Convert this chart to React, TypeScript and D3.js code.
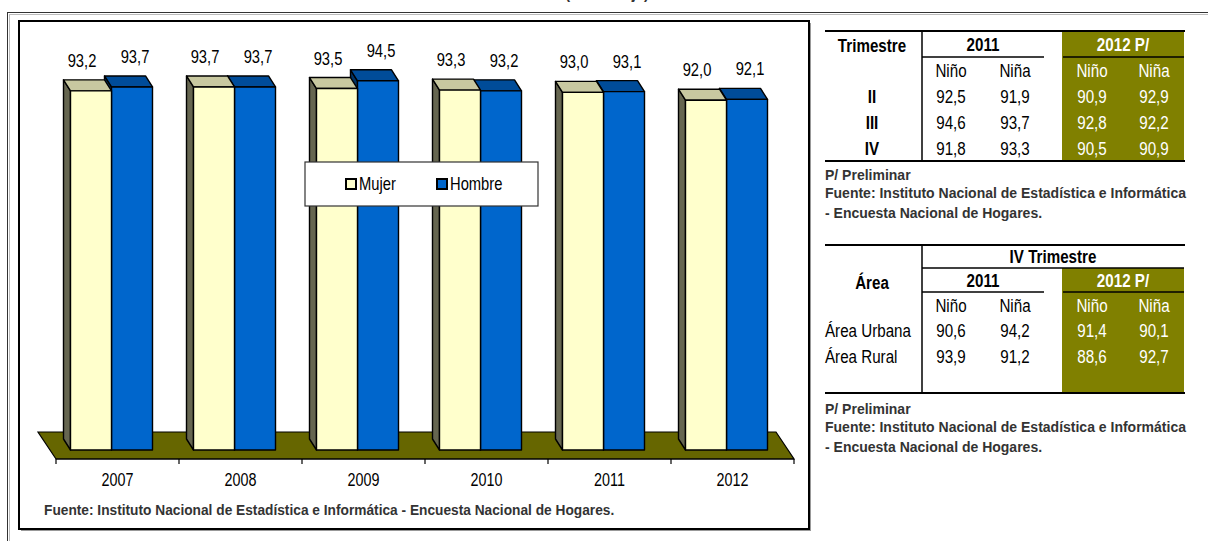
import React from "react";
import * as d3 from "d3";

const years = ["2007", "2008", "2009", "2010", "2011", "2012"];
const mujer = [93.2, 93.7, 93.5, 93.3, 93.0, 92.0];
const hombre = [93.7, 93.7, 94.5, 93.2, 93.1, 92.1];
const seriesNames = ["Mujer", "Hombre"];

const trimestres = ["II", "III", "IV"];
const triNino2011 = [92.5, 94.6, 91.8];
const triNina2011 = [91.9, 93.7, 93.3];
const triNino2012 = [90.9, 92.8, 90.5];
const triNina2012 = [92.9, 92.2, 90.9];

const areas = ["Área Urbana", "Área Rural"];
const areaNino2011 = [90.6, 93.9];
const areaNina2011 = [94.2, 91.2];
const areaNino2012 = [91.4, 88.6];
const areaNina2012 = [90.1, 92.7];

const FONT = "'Liberation Sans', Arial, sans-serif";
const NARROW = 0.82;
const fmt = (v: number) => d3.format(".1f")(v).replace(".", ",");
const fuente = "Fuente: Instituto Nacional de Estadística e Informática - Encuesta Nacional de Hogares.";

const COLORS = {
  mujerFront: "#FFFFCC",
  mujerTop: "#C8C8A0",
  mujerSide: "#666650",
  hombreFront: "#0066CC",
  hombreTop: "#004C99",
  hombreSide: "#003366",
  floor: "#666600",
  olive: "#808000",
};

function Txt({ x, y, anchor = "start", size = 18, weight = "normal", fill = "#000", scale = NARROW, middle = true, children }: any) {
  return (
    <text
      transform={`translate(${x},${y}) scale(${scale},1)`}
      textAnchor={anchor}
      dy={middle ? "0.35em" : undefined}
      fontSize={size}
      fontWeight={weight}
      fontFamily={FONT}
      fill={fill}
    >
      {children}
    </text>
  );
}

function Bar3D({ L, R, top, bottom, dx, dy, front, topC, side }: any) {
  const pts = (a: number[][]) => a.map((p) => p.join(",")).join(" ");
  return (
    <g stroke="#000" strokeWidth={1.4} strokeLinejoin="round">
      <polygon points={pts([[L, top], [L + dx, top + dy], [L + dx, bottom + dy], [L, bottom]])} fill={side} />
      <polygon points={pts([[L, top], [R, top], [R + dx, top + dy], [L + dx, top + dy]])} fill={topC} />
      <rect x={L} y={top} width={R - L} height={bottom - top} fill={front} />
    </g>
  );
}

function Chart() {
  const x = d3.scaleBand().domain(years).range([56, 794]);
  const y = d3.scaleLinear().domain([47, 100]).range([450, 38]);
  const bw = 41;
  const dx = -7, dy = -11;
  const shift = -6;
  const baseY = y(47);
  const floorFront = 459;
  const fdx = -18, fdy = -27;
  const x0 = x.range()[0], x1 = x.range()[1];

  return (
    <g>
      <rect x={21} y={23} width={790} height={508} fill="#999" />
      <rect x={19} y={21} width={790} height={508} fill="#fff" stroke="#000" strokeWidth={2} />
      <polygon
        points={[[x0, floorFront], [x1, floorFront], [x1 + fdx, floorFront + fdy], [x0 + fdx, floorFront + fdy]].map((p) => p.join(",")).join(" ")}
        fill={COLORS.floor}
        stroke="#000"
        strokeWidth={1.2}
      />
      <line x1={x0} x2={x1} y1={floorFront} y2={floorFront} stroke="#000" strokeWidth={1.2} />
      {years.concat(["end"]).map((d, i) => {
        const tx = i < years.length ? (x(d) as number) : x1;
        return <line key={"t" + i} x1={tx} x2={tx} y1={floorFront} y2={floorFront + 5} stroke="#000" strokeWidth={1.2} />;
      })}
      {years.map((yr) => (
        <Txt key={"yl" + yr} x={(x(yr) as number) + x.bandwidth() / 2} y={480} anchor="middle" size={17.5}>
          {yr}
        </Txt>
      ))}
      {years.map((yr, i) => {
        const c = (x(yr) as number) + x.bandwidth() / 2 + shift;
        const hTop = y(hombre[i]);
        const mTop = y(mujer[i]);
        return (
          <g key={"b" + yr}>
            <Bar3D L={c} R={c + bw} top={hTop} bottom={baseY} dx={dx} dy={dy} front={COLORS.hombreFront} topC={COLORS.hombreTop} side={COLORS.hombreSide} />
            <Bar3D L={c - bw} R={c} top={mTop} bottom={baseY} dx={dx} dy={dy} front={COLORS.mujerFront} topC={COLORS.mujerTop} side={COLORS.mujerSide} />
            <Txt x={c - bw / 2 - 9} y={mTop + dy - 13} anchor="middle" middle={false}>
              {fmt(mujer[i])}
            </Txt>
            <Txt x={c + bw / 2 + 3} y={hTop + dy - 13} anchor="middle" middle={false}>
              {fmt(hombre[i])}
            </Txt>
          </g>
        );
      })}
      <rect x={305} y={162} width={233} height={44} fill="#fff" stroke="#333" strokeWidth={1.2} />
      {seriesNames.map((s, i) => {
        const lx = [346, 437][i];
        return (
          <g key={"lg" + s}>
            <rect x={lx} y={179} width={10} height={10} fill={i === 0 ? COLORS.mujerFront : COLORS.hombreFront} stroke="#000" strokeWidth={2} />
            <Txt x={lx + 13} y={184}>{s}</Txt>
          </g>
        );
      })}
      <Txt x={44} y={510} size={14} weight="bold" fill="#333" scale={0.98}>
        {fuente}
      </Txt>
    </g>
  );
}

function Notes({ y0 }: { y0: number }) {
  const lines = ["P/ Preliminar", "Fuente: Instituto Nacional de Estadística e Informática", "- Encuesta Nacional de Hogares."];
  const ys = [y0, y0 + 18, y0 + 38];
  return (
    <g>
      {lines.map((l, i) => (
        <Txt key={l} x={825} y={ys[i]} size={14} weight="bold" fill="#333" scale={1}>
          {l}
        </Txt>
      ))}
    </g>
  );
}

const colX = [951, 1015, 1092, 1154];
const subHeads = ["Niño", "Niña", "Niño", "Niña"];

function Table1() {
  const rowsY = [97, 123, 149];
  const cols = [triNino2011, triNina2011, triNino2012, triNina2012];
  return (
    <g>
      <rect x={1062} y={31} width={122} height={130} fill={COLORS.olive} />
      <line x1={825} x2={1185} y1={31} y2={31} stroke="#000" strokeWidth={2} />
      <line x1={922} x2={922} y1={31} y2={161} stroke="#000" strokeWidth={1.5} />
      <line x1={922} x2={1044} y1={57} y2={57} stroke="#000" strokeWidth={1.5} />
      <line x1={1063} x2={1184} y1={57} y2={57} stroke="#000" strokeWidth={1.5} />
      <line x1={825} x2={1185} y1={161} y2={161} stroke="#000" strokeWidth={2} />
      <Txt x={872} y={46} anchor="middle" size={18.5} weight="bold">Trimestre</Txt>
      <Txt x={983} y={45} anchor="middle" size={18.5} weight="bold">2011</Txt>
      <Txt x={1123} y={45} anchor="middle" size={18.5} weight="bold" fill="#fff">2012 P/</Txt>
      {subHeads.map((t, i) => (
        <Txt key={"h" + i} x={colX[i]} y={71} anchor="middle" size={18.5} fill={i > 1 ? "#fff" : "#000"}>{t}</Txt>
      ))}
      {trimestres.map((t, r) => (
        <g key={t}>
          <Txt x={872} y={rowsY[r]} anchor="middle" size={18.5} weight="bold">{t}</Txt>
          {cols.map((c, i) => (
            <Txt key={i} x={colX[i]} y={rowsY[r]} anchor="middle" size={18.5} fill={i > 1 ? "#fff" : "#000"}>{fmt(c[r])}</Txt>
          ))}
        </g>
      ))}
      <Notes y0={175} />
    </g>
  );
}

function Table2() {
  const rowsY = [331, 357];
  const cols = [areaNino2011, areaNina2011, areaNino2012, areaNina2012];
  return (
    <g>
      <rect x={1062} y={268} width={122} height={125} fill={COLORS.olive} />
      <line x1={825} x2={1185} y1={245} y2={245} stroke="#000" strokeWidth={2} />
      <line x1={922} x2={922} y1={245} y2={393} stroke="#000" strokeWidth={1.5} />
      <line x1={922} x2={1184} y1={268} y2={268} stroke="#000" strokeWidth={1.5} />
      <line x1={922} x2={1044} y1={292} y2={292} stroke="#000" strokeWidth={1.5} />
      <line x1={1063} x2={1184} y1={292} y2={292} stroke="#000" strokeWidth={1.5} />
      <line x1={825} x2={1185} y1={393} y2={393} stroke="#000" strokeWidth={2} />
      <Txt x={1053} y={257} anchor="middle" size={18.5} weight="bold">IV Trimestre</Txt>
      <Txt x={872} y={283} anchor="middle" size={18.5} weight="bold">Área</Txt>
      <Txt x={983} y={281} anchor="middle" size={18.5} weight="bold">2011</Txt>
      <Txt x={1123} y={281} anchor="middle" size={18.5} weight="bold" fill="#fff">2012 P/</Txt>
      {subHeads.map((t, i) => (
        <Txt key={"h" + i} x={colX[i]} y={306} anchor="middle" size={18.5} fill={i > 1 ? "#fff" : "#000"}>{t}</Txt>
      ))}
      {areas.map((a, r) => (
        <g key={a}>
          <Txt x={825} y={rowsY[r]} size={18.5}>{a}</Txt>
          {cols.map((c, i) => (
            <Txt key={i} x={colX[i]} y={rowsY[r]} anchor="middle" size={18.5} fill={i > 1 ? "#fff" : "#000"}>{fmt(c[r])}</Txt>
          ))}
        </g>
      ))}
      <Notes y0={409} />
    </g>
  );
}

export default function App() {
  return (
    <svg width={1208} height={541} style={{ position: "absolute", left: 0, top: 0, background: "#fff" }} fontFamily={FONT}>
      <rect width={1208} height={541} fill="#fff" />
      <Txt x={607} y={-1} anchor="middle" size={17} weight="bold" fill="#333" middle={false} scale={0.85}>(Porcentaje)</Txt>
      <line x1={7} x2={1208} y1={12.5} y2={12.5} stroke="#333" strokeWidth={1} />
      <line x1={7.5} x2={7.5} y1={12} y2={541} stroke="#333" strokeWidth={1} />
      <line x1={9} x2={1208} y1={14.5} y2={14.5} stroke="#bbb" strokeWidth={1} />
      <line x1={9.5} x2={9.5} y1={14} y2={541} stroke="#bbb" strokeWidth={1} />
      <Chart />
      <Table1 />
      <Table2 />
    </svg>
  );
}
